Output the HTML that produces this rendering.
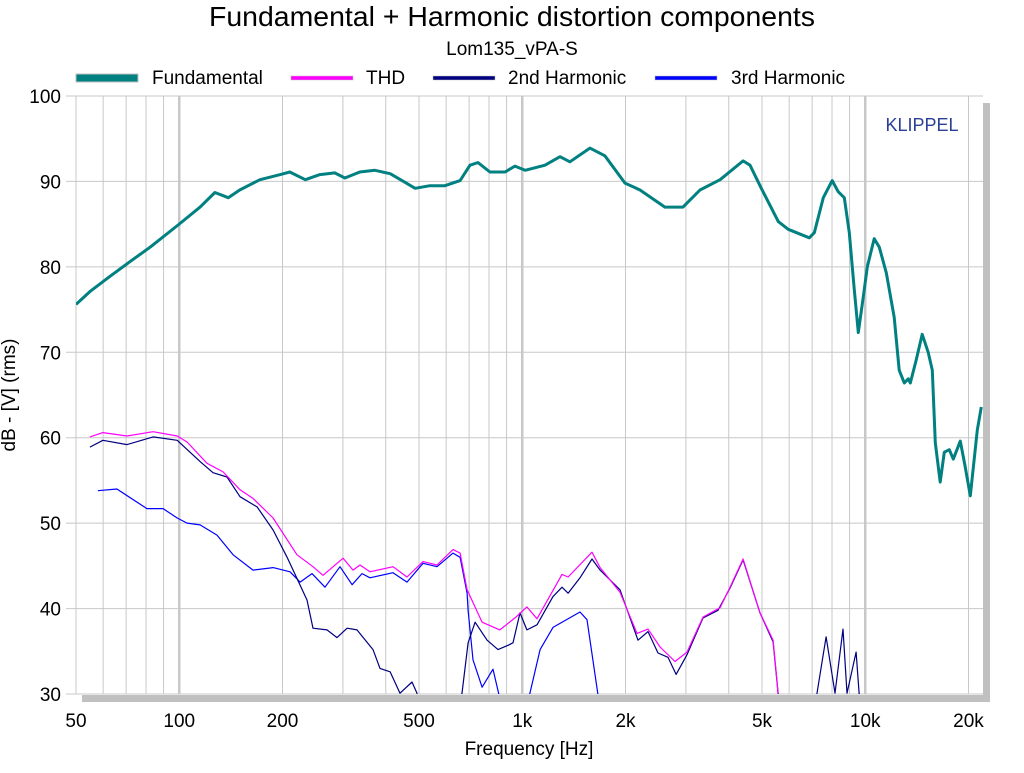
<!DOCTYPE html>
<html><head><meta charset="utf-8"><style>
body{margin:0;background:#fff;width:1024px;height:768px;overflow:hidden;font-family:"Liberation Sans",sans-serif}
svg text{font-family:"Liberation Sans",sans-serif}
</style></head><body>
<svg id="chart" width="1024" height="768" viewBox="0 0 1024 768" xmlns="http://www.w3.org/2000/svg">
<text x="512" y="26" text-anchor="middle" font-size="28" textLength="606" lengthAdjust="spacingAndGlyphs">Fundamental + Harmonic distortion components</text>
<text x="512" y="55" text-anchor="middle" font-size="19">Lom135_vPA-S</text>
<g font-size="19">
 <g><rect x="76" y="74" width="62" height="8" fill="#008080" stroke="#c0c0c0" stroke-width="1"/><text x="152" y="84">Fundamental</text></g>
 <g><rect x="291" y="76" width="62" height="4" fill="#ff00ff" stroke="#c0c0c0" stroke-width="0.5"/><text x="366" y="84">THD</text></g>
 <g><rect x="433" y="76" width="62" height="4" fill="#000080" stroke="#c0c0c0" stroke-width="0.5"/><text x="508" y="84">2nd Harmonic</text></g>
 <g><rect x="655" y="76" width="62" height="4" fill="#0000ff" stroke="#c0c0c0" stroke-width="0.5"/><text x="731" y="84">3rd Harmonic</text></g>
</g>
<rect x="983" y="103" width="7" height="599" fill="#c0c0c0"/>
<rect x="82" y="695" width="908" height="7" fill="#c0c0c0"/>
<g id="grid"></g>
<g id="ticks" font-size="19"></g>
<defs><clipPath id="pc"><rect x="76" y="96" width="907" height="598"/></clipPath></defs>
<g id="series" clip-path="url(#pc)"></g>
<text x="922" y="131" text-anchor="middle" font-size="18" fill="#2a3f96">KLIPPEL</text>
<text x="529" y="755" text-anchor="middle" font-size="19">Frequency [Hz]</text>
<text x="15" y="395" text-anchor="middle" font-size="19" transform="rotate(-90 15 395)">dB - [V]  (rms)</text>
</svg>
<script>
const yTicks=[30,40,50,60,70,80,90,100];
const xLabelVals=[50,100,200,500,1000,2000,5000,10000,20000];
const xLabelText=["50","100","200","500","1k","2k","5k","10k","20k"];
const fundF=[50,54.9,62.8,71.8,82.2,99.2,115,127,139,150,172,197,210,233,257,284,304,336,372,412,455,487,538,595,659,704,743,805,891,952,1019,1165,1288,1377,1575,1742,1993,2204,2606,2943,3297,3773,4403,4614,4975,5577,5963,6867,7101,7543,8012,8341,8686,8983,9288,9541,9867,10135,10622,10986,11514,12146,12563,12994,13349,13529,14081,14655,15257,15681,16000,16541,16998,17578,18060,18923,19562,20236,21212,21794];
const fundDb=[75.6,77.1,78.9,80.6,82.3,84.9,87.0,88.7,88.1,89.0,90.2,90.8,91.1,90.2,90.8,91.0,90.4,91.1,91.3,90.9,89.9,89.2,89.5,89.5,90.1,91.9,92.2,91.1,91.1,91.8,91.3,91.9,92.9,92.3,93.9,93.0,89.8,89.0,87.0,87.0,89.0,90.2,92.4,91.9,89.2,85.3,84.4,83.4,84.0,88.1,90.1,88.8,88.1,84.0,77.3,72.3,76.5,80.0,83.3,82.3,79.3,74.1,67.9,66.4,66.9,66.4,69.1,72.1,70.0,67.9,59.4,54.8,58.3,58.6,57.5,59.6,56.6,53.2,60.9,63.6];
const thdF=[54.9,59.9,70.4,83.9,98.6,105.4,120.5,134.2,150.4,164.1,187.7,220.5,245.4,262.4,300.3,321.1,336.5,359.8,420,461.4,513.6,564.4,628.4,659,690.4,763.5,860,958,1032,1104,1306,1360,1597,1686,1927,2160,2326,2522,2789,3022,3365,3773,4033,4403,4933,5386,5532,5570];
const thdDb=[60.1,60.6,60.2,60.7,60.2,59.5,57.0,56.0,53.9,52.9,50.6,46.3,44.9,43.9,45.9,44.5,45.1,44.3,44.9,43.7,45.5,45.1,46.9,46.5,42.2,38.4,37.5,39.0,40.2,38.8,44.0,43.7,46.6,44.8,41.9,37.1,37.6,35.5,33.8,34.9,39.0,40.1,42.5,45.8,39.5,36.3,31.4,29.7];
const h2F=[54.9,59.9,70.4,83.9,98.6,115,125.4,137.8,150.4,168.6,187.7,206.2,235.8,245.4,269.6,288.4,308.5,329.8,367.2,384.9,411.7,440.2,477.2,493.4,520,667.5,695,728.5,789.6,850,909,940,985,1032,1104,1229,1306,1360,1474,1597,1686,1927,2175,2326,2488,2661,2808,3022,3365,3722,4033,4403,4933,5386,5570,7000,7233,7687,8163,8614,8849,9404,9594,11000];
const h2Db=[58.9,59.7,59.2,60.1,59.7,57.2,55.9,55.4,53.1,51.9,49.2,46.0,41.0,37.7,37.5,36.6,37.7,37.5,35.2,33.0,32.6,30.1,31.4,30.1,20,30.1,36.0,38.4,36.3,35.2,35.7,36.0,39.5,37.5,38.1,41.4,42.5,41.8,43.6,45.8,44.5,42.2,36.3,37.3,34.8,34.3,32.3,34.6,38.9,39.8,42.4,45.7,39.5,36.1,30.1,20,30.1,36.7,30.1,37.6,30.1,34.9,30.1,20];
const h3F=[57.9,65.8,80.5,89.7,98.6,105.4,115,128.8,143.5,164.1,187.7,210.3,225,243.8,266,294.3,319,341,359.8,420,461.4,513.6,564.4,628.4,659,690.4,695,718.7,763.5,821.9,855.7,900,1053,1127,1229,1474,1544,1663,1800];
const h3Db=[53.8,54.0,51.7,51.7,50.6,50.0,49.8,48.6,46.3,44.5,44.8,44.3,43.1,44.1,42.5,44.9,42.8,44.1,43.6,44.2,43.1,45.3,44.9,46.5,46.0,41.8,39.8,34.0,30.8,32.9,29.9,20,30.1,35.2,37.8,39.6,38.7,29.9,20];

const X0=76,PX_DEC=343,Y0=96,PX_DB=8.543;
function xs(f){return X0+PX_DEC*Math.log10(f/50);}
function ys(d){return Y0+(100-d)*PX_DB;}
const NS="http://www.w3.org/2000/svg";
const grid=document.getElementById('grid'),ticks=document.getElementById('ticks'),series=document.getElementById('series');
function mk(tag,attrs,parent){const e=document.createElementNS(NS,tag);for(const k in attrs)e.setAttribute(k,attrs[k]);parent.appendChild(e);return e;}
yTicks.forEach(v=>{
 const l=mk('line',{x1:66,x2:983,y1:ys(v),y2:ys(v),stroke:'#c8c8c8','stroke-width':1},grid);
 
 
 const t=mk('text',{x:61,y:ys(v)+7,'text-anchor':'end'},ticks);
 t.textContent=v;
 
 
});
for(let dec=10;dec<=10000;dec*=10){for(let m=1;m<=9;m++){const f=dec*m;if(f<50||f>22000)continue;
 const major=(m===1);
 const l=mk('line',{x1:xs(f),x2:xs(f),y1:96,y2:694,stroke:'#c8c8c8','stroke-width':major?2.5:1},grid);
 
 
}}
xLabelVals.forEach((f,i)=>{
 const t=mk('text',{x:xs(f),y:727,'text-anchor':'middle'},ticks);
 t.textContent=xLabelText[i];
 
 
});
function line(F,D,color,w,name){
 const d=F.map((f,i)=>(i?'L':'M')+xs(f).toFixed(1)+','+ys(D[i]).toFixed(1)).join('');
 const p=mk('path',{d:d,fill:'none',stroke:color,'stroke-width':w,'stroke-linejoin':'round'},series);
 
 
}
line(h3F,h3Db,'#0000ff',1.2,'series-3rd-harmonic');
line(h2F,h2Db,'#000080',1.2,'series-2nd-harmonic');
line(thdF,thdDb,'#ff00ff',1.2,'series-thd');
line(fundF,fundDb,'#008080',3,'series-fundamental');
</script>
</body></html>
